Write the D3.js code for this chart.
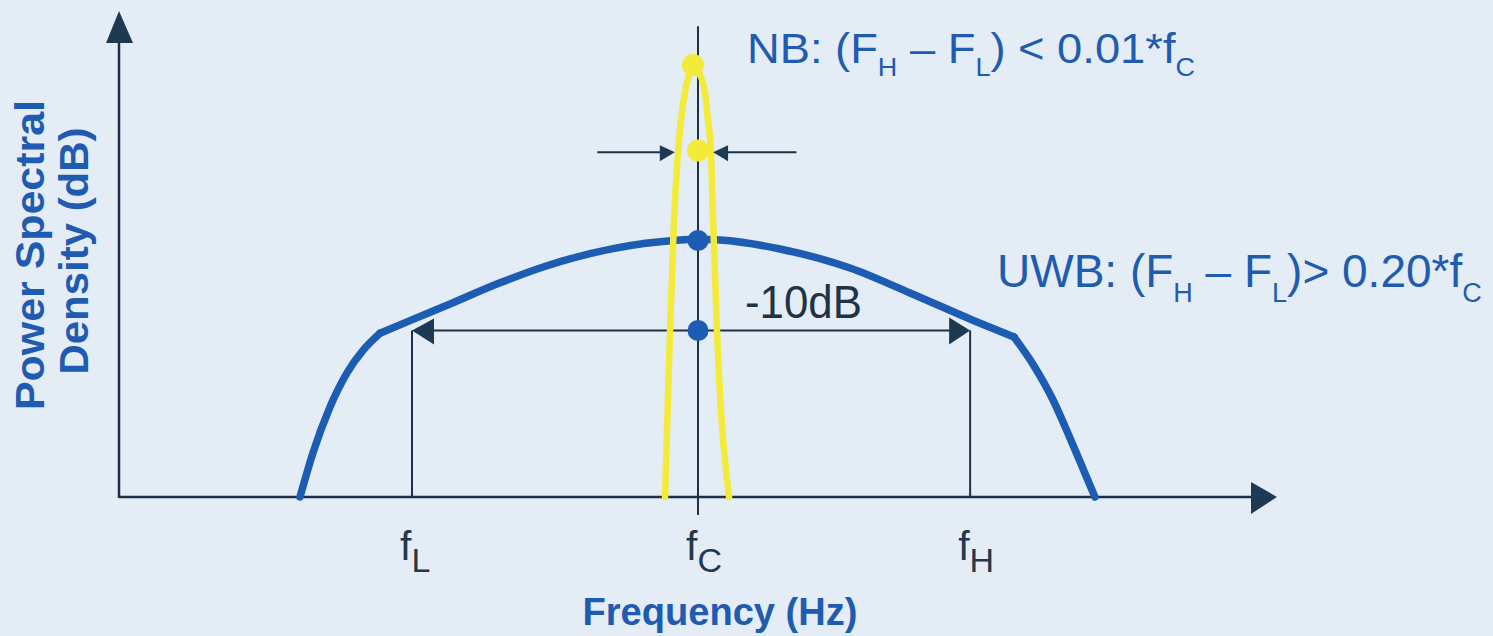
<!DOCTYPE html>
<html><head><meta charset="utf-8">
<script src="https://cdn.jsdelivr.net/npm/d3@7/dist/d3.min.js"></script>
<style>
html,body{margin:0;padding:0;background:#e4ecf5;}
svg{display:block;}
text{font-family:"Liberation Sans",Arial,sans-serif;}
</style></head>
<body>
<svg id="chart" width="1493" height="636"></svg>
<script>
// ---- data ----
const xDomain = [0, 100];          // relative frequency units
const yDomain = [-28.5, 25.5];     // relative PSD (dB)
const uwbFreq = [15.63, 16.75, 18.22, 19.69, 21.07, 22.54, 25.13, 28.32, 32.90, 36.96, 42.66, 48.45, 49.91, 51.90, 57.08, 63.13, 68.31, 73.49, 77.29, 79.02, 80.66, 82.12, 83.33, 84.28];
const uwbPSD  = [-28.5, -23.6, -18.5, -14.7, -12.2, -10.3, -8.9, -7.2, -4.7, -2.8, -0.9, 0.05, 0.15, 0.05, -0.94, -3.06, -5.83, -8.72, -10.72, -13.94, -17.72, -21.94, -25.61, -28.5];
const uwbCorners = [5, 18];
const nbFreq = [47.15, 47.58, 47.93, 48.27, 48.53, 48.96, 49.57, 50.52, 50.86, 51.12, 51.30, 51.64, 52.68];
const nbPSD  = [-28.5, -10.06, 2.28, 9.72, 13.39, 17.06, 19.5, 17.06, 13.39, 9.72, 2.28, -10.06, -28.5];
const nbCorners = [6];
const tickFreqs = [25.3, 50, 73.5];
const tickSubs  = ["L", "C", "H"];
const fC = 50;
const uwbDots = [0, -10];           // dB at fC
const nbPeak = [49.57, 19.5];
const nbDotLevel = 10.0;
const nbArrowLevel = 9.8;
const nbArrowSpan = [41.3, 48.0, 51.3, 58.5]; // outer-left, tip-left, tip-right, outer-right
const uwbLevel = -10;
const nbFormula = [["NB: (F",0],["H",1],[" \u2013 F",0],["L",1],[") < 0.01*f",0],["C",1]];
const uwbFormula = [["UWB: (F",0],["H",1],[" \u2013 F",0],["L",1],[")> 0.20*f",0],["C",1]];
const bwLabel = "-10dB";
const xTitle = "Frequency (Hz)";
const yTitle = ["Power Spectral", "Density (dB)"];

// ---- drawing ----
const svg = d3.select("#chart");
const x = d3.scaleLinear().domain(xDomain).range([119, 1277]);
const y = d3.scaleLinear().domain(yDomain).range([497, 11]);

const BLUE = "#1d5cb3", YEL = "#f3ea3a", DARK = "#1c3046", ARROW = "#1d3a52", TXT = "#1f5bb0";

// axes
const x0 = x(xDomain[0]), x1 = x(xDomain[1]), yb = y(yDomain[0]), yt = y(yDomain[1]);
svg.append("line").attr("x1", x0).attr("x2", x1 - 24).attr("y1", yb).attr("y2", yb)
  .attr("stroke", DARK).attr("stroke-width", 2.5);
svg.append("line").attr("x1", x0).attr("x2", x0).attr("y1", yb + 1).attr("y2", yt + 28)
  .attr("stroke", DARK).attr("stroke-width", 2.5);
svg.append("path").attr("d", `M${x1},${yb} L${x1-26},${yb-15} L${x1-26},${yb+17} Z`).attr("fill", ARROW);
svg.append("path").attr("d", `M${x0},${yt} L${x0-13},${yt+32} L${x0+14},${yt+32} Z`).attr("fill", ARROW);

// fL / fH vertical lines
[tickFreqs[0], tickFreqs[2]].forEach(f => {
  svg.append("line").attr("x1", x(f)).attr("x2", x(f)).attr("y1", y(uwbLevel)).attr("y2", yb)
    .attr("stroke", DARK).attr("stroke-width", 2);
});
// -10dB bandwidth line
const yl = y(uwbLevel);
svg.append("line").attr("x1", x(tickFreqs[0]) + 10).attr("x2", x(tickFreqs[2]) - 10).attr("y1", yl).attr("y2", yl)
  .attr("stroke", DARK).attr("stroke-width", 2);
const xl = x(tickFreqs[0]), xh = x(tickFreqs[2]);
svg.append("path").attr("d", `M${xl},${yl} L${xl+22},${yl-12} L${xl+22},${yl+14} Z`).attr("fill", ARROW);
svg.append("path").attr("d", `M${xh},${yl} L${xh-21},${yl-13} L${xh-21},${yl+14} Z`).attr("fill", ARROW);

// smooth curves split at corner points
const line = d3.line().x(d => x(d[0])).y(d => y(d[1])).curve(d3.curveMonotoneX);
function segmented(xs, ys, corners, color, width) {
  const pts = xs.map((f, i) => [f, ys[i]]);
  const b = [0, ...corners, pts.length - 1];
  for (let s = 0; s < b.length - 1; s++) {
    svg.append("path").attr("d", line(pts.slice(b[s], b[s + 1] + 1)))
      .attr("fill", "none").attr("stroke", color).attr("stroke-width", width)
      .attr("stroke-linecap", "round").attr("stroke-linejoin", "round");
  }
}
segmented(uwbFreq, uwbPSD, uwbCorners, BLUE, 7.5);

// fC vertical line
svg.append("line").attr("x1", x(fC)).attr("x2", x(fC)).attr("y1", y(23.8)).attr("y2", yb + 18)
  .attr("stroke", DARK).attr("stroke-width", 2);

// NB curve
segmented(nbFreq, nbPSD, nbCorners, YEL, 6.5);

// NB width arrows
const ya = y(nbArrowLevel);
const [oL, tL, tR, oR] = nbArrowSpan.map(x);
svg.append("line").attr("x1", oL).attr("x2", tL - 8).attr("y1", ya).attr("y2", ya).attr("stroke", DARK).attr("stroke-width", 2);
svg.append("line").attr("x1", tR + 8).attr("x2", oR).attr("y1", ya).attr("y2", ya).attr("stroke", DARK).attr("stroke-width", 2);
svg.append("path").attr("d", `M${tL},${ya} L${tL-15},${ya-7} L${tL-15},${ya+9} Z`).attr("fill", ARROW);
svg.append("path").attr("d", `M${tR},${ya} L${tR+15},${ya-7} L${tR+15},${ya+9} Z`).attr("fill", ARROW);

// dots
uwbDots.forEach(v => svg.append("circle").attr("cx", x(fC)).attr("cy", y(v)).attr("r", 10.5).attr("fill", BLUE));
svg.append("circle").attr("cx", x(nbPeak[0])).attr("cy", y(nbPeak[1])).attr("r", 11).attr("fill", YEL);
svg.append("circle").attr("cx", x(fC)).attr("cy", y(nbDotLevel)).attr("r", 11).attr("fill", YEL);

// formula texts
function formula(parts, px, py, size, sub, dy, len) {
  const t = svg.append("text").attr("x", px).attr("y", py).attr("fill", TXT).attr("font-size", size);
  if (len) t.attr("textLength", len).attr("lengthAdjust", "spacingAndGlyphs");
  let cur = 0;
  parts.forEach(([s, isSub]) => {
    const shift = (isSub ? dy : 0) - cur;
    t.append("tspan").attr("dy", shift).attr("font-size", isSub ? sub : size).text(s);
    cur = isSub ? dy : 0;
  });
}
formula(nbFormula, 747, 63, 42, 25, 13, 448);
formula(uwbFormula, 997, 287, 46, 27, 15, null);

svg.append("text").attr("x", 745).attr("y", 318).attr("fill", "#1f3347").attr("font-size", 46)
  .attr("textLength", 117).attr("lengthAdjust", "spacingAndGlyphs").text(bwLabel);

// tick labels f_L, f_C, f_H
tickFreqs.forEach((f, i) => {
  const t = svg.append("text").attr("x", x(f) - 12).attr("y", 560).attr("fill", "#24384b").attr("font-size", 41);
  t.append("tspan").text("f");
  t.append("tspan").attr("dy", 12).attr("font-size", 34).text(tickSubs[i]);
});

// axis titles
svg.append("text").attr("x", 720).attr("y", 625).attr("text-anchor", "middle").attr("fill", TXT)
  .attr("font-size", 38).attr("font-weight", "bold").attr("textLength", 275).attr("lengthAdjust", "spacingAndGlyphs").text(xTitle);
svg.append("text").attr("transform", "translate(44,255) rotate(-90)").attr("text-anchor", "middle").attr("fill", TXT)
  .attr("font-size", 40).attr("font-weight", "bold").attr("textLength", 310).attr("lengthAdjust", "spacingAndGlyphs").text(yTitle[0]);
svg.append("text").attr("transform", "translate(88,251) rotate(-90)").attr("text-anchor", "middle").attr("fill", TXT)
  .attr("font-size", 40).attr("font-weight", "bold").attr("textLength", 247).attr("lengthAdjust", "spacingAndGlyphs").text(yTitle[1]);
</script>
</body></html>
